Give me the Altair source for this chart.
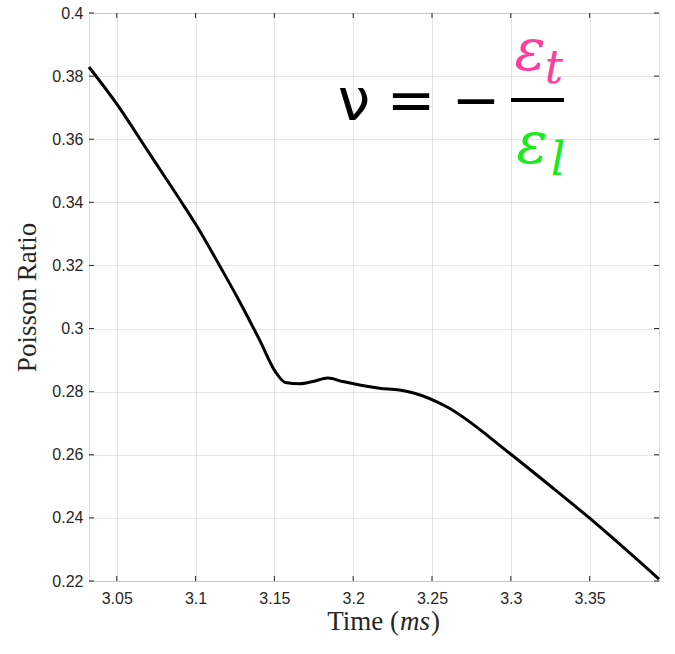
import altair as alt
import pandas as pd

time_ms = [3.0324, 3.05, 3.0707, 3.0909, 3.1004, 3.1162, 3.1279, 3.1406, 3.1507, 3.157,
           3.166, 3.1744, 3.1839, 3.1934, 3.204, 3.2167, 3.2293, 3.2389, 3.259,
           3.2992, 3.3246, 3.35, 3.394]
poisson = [0.3829, 0.3712, 0.3555, 0.3402, 0.3328, 0.3191, 0.3086, 0.2964, 0.2863, 0.2829,
           0.2825, 0.2832, 0.2843, 0.2832, 0.2821, 0.2811, 0.2805, 0.2795, 0.2753,
           0.2605, 0.2503, 0.2399, 0.2206]
x_ticks = [3.05, 3.1, 3.15, 3.2, 3.25, 3.3, 3.35]
y_ticks = [0.22, 0.24, 0.26, 0.28, 0.3, 0.32, 0.34, 0.36, 0.38, 0.4]
x_title_parts = ["Time (", "ms", ")"]
y_title = "Poisson Ratio"

X_DOMAIN = [3.0324, 3.394]
Y_DOMAIN = [0.22, 0.4]
W, H = 570, 568

df = pd.DataFrame({"t": time_ms, "v": poisson})
xt = pd.DataFrame({"t": x_ticks})
yt = pd.DataFrame({"v": y_ticks})

xscale = alt.Scale(domain=X_DOMAIN, nice=False, zero=False)
yscale = alt.Scale(domain=Y_DOMAIN, nice=False, zero=False)

SERIF = "Liberation Serif"
common = dict(
    grid=True, gridColor="#000000", gridOpacity=0.1, gridWidth=1,
    domain=False, ticks=False, format="~g",
    labelFont="Liberation Sans", labelFontSize=16, labelColor="#262626",
    titleFont=SERIF, titleFontSize=27, titleFontWeight="normal",
    titleColor="#262626",
)
xaxis = alt.Axis(values=x_ticks, title=None, labelPadding=9, **common)
yaxis = alt.Axis(values=y_ticks, title=y_title, labelPadding=6, titlePadding=10, **common)

line = alt.Chart(df).mark_line(color="black", strokeWidth=3, interpolate="monotone").encode(
    x=alt.X("t:Q", scale=xscale, axis=xaxis),
    y=alt.Y("v:Q", scale=yscale, axis=yaxis),
)

tick_color = "#262626"
xb = alt.Chart(xt).mark_rule(color=tick_color, strokeWidth=1).encode(
    x=alt.X("t:Q", scale=xscale, axis=xaxis), y=alt.value(H), y2=alt.value(H - 5))
xtop = alt.Chart(xt).mark_rule(color=tick_color, strokeWidth=1).encode(
    x=alt.X("t:Q", scale=xscale, axis=xaxis), y=alt.value(0), y2=alt.value(5))
yl = alt.Chart(yt).mark_rule(color=tick_color, strokeWidth=1).encode(
    y=alt.Y("v:Q", scale=yscale, axis=yaxis), x=alt.value(0), x2=alt.value(5))
yr = alt.Chart(yt).mark_rule(color=tick_color, strokeWidth=1).encode(
    y=alt.Y("v:Q", scale=yscale, axis=yaxis), x=alt.value(W), x2=alt.value(W - 5))

one = pd.DataFrame({"d": [0]})

def txt(s, x, y, size, color="black", style="normal", font="DejaVu Serif", align="center"):
    return alt.Chart(one).mark_text(text=s, fontSize=size, color=color, fontStyle=style,
                                    font=font, align=align, baseline="alphabetic").encode(
        x=alt.value(x), y=alt.value(y))

# x-axis title with italic unit
xtitle = [
    txt(x_title_parts[0], 310, 617, 27, color="#262626", font=SERIF, align="right"),
    txt(x_title_parts[1], 311, 617, 27, color="#262626", font=SERIF, style="italic", align="left"),
    txt(x_title_parts[2], 342, 617, 27, color="#262626", font=SERIF, align="left"),
]

pink = "#ff3d9e"
green = "#19ec19"
formula = [
    txt("ν", 265, 107, 58, font="DejaVu Sans"),
    txt("=", 322, 107, 58, font="DejaVu Sans"),
    txt("−", 387, 107, 58, font="DejaVu Sans"),
    txt("ε", 441, 57, 58, color=pink, style="italic"),
    txt("t", 465, 70, 46, color=pink, style="italic"),
    txt("ε", 443, 150, 58, color=green, style="italic"),
    txt("l", 469, 162, 46, color=green, style="italic"),
]
bar = alt.Chart(one).mark_rule(color="black", strokeWidth=4).encode(
    x=alt.value(422), x2=alt.value(475), y=alt.value(87))

chart = alt.layer(line, xb, xtop, yl, yr, bar, *formula, *xtitle).properties(
    width=W, height=H,
    autosize=alt.AutoSizeParams(type="none"),
    padding={"left": 89, "top": 13, "right": 16, "bottom": 73},
).configure_view(stroke="#262626", strokeWidth=1.2).configure(background="white")

chart.save("out.html", embed_options={"renderer": "svg", "actions": False})
